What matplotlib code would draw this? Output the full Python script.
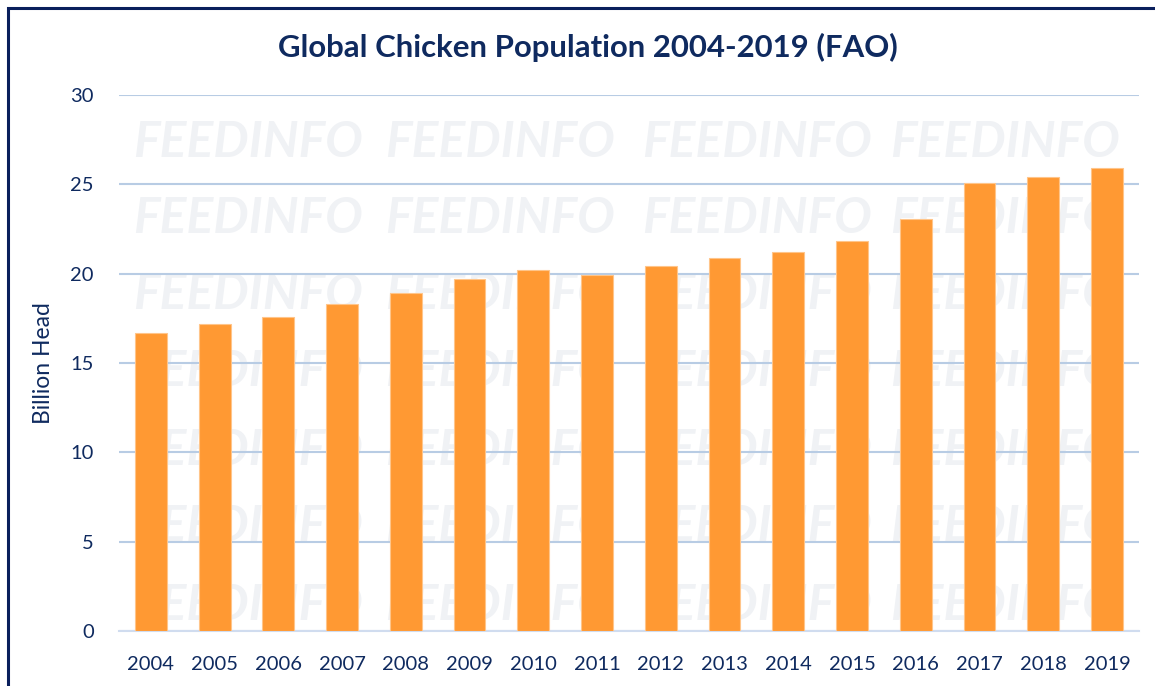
import matplotlib.pyplot as plt
import numpy as np
from matplotlib.patches import Rectangle

years = ["2004", "2005", "2006", "2007", "2008", "2009", "2010", "2011",
         "2012", "2013", "2014", "2015", "2016", "2017", "2018", "2019"]
chickens = [16.7, 17.2, 17.6, 18.3, 18.9, 19.7, 20.2, 19.95,
            20.45, 20.9, 21.2, 21.85, 23.05, 25.1, 25.4, 25.9]

navy = "#0f2a5f"
orange = "#ff9933"

plt.rcParams["font.family"] = ["Lato", "DejaVu Sans"]

fig = plt.figure(figsize=(11.55, 6.86), dpi=100)
ax = fig.add_axes([0.103, 0.0802, 0.883, 0.7813])

# faint watermark, behind the grid and bars
for ty in [0.792, 0.682, 0.570, 0.458, 0.344, 0.232, 0.118]:
    for tx in [0.215, 0.433, 0.655, 0.87]:
        ax.text(tx, ty, "FEEDINFO", fontsize=36, fontweight="bold", style="italic",
                color="#f0f2f5", ha="center", va="center", zorder=0.2,
                transform=fig.transFigure, clip_on=False)

ind = np.arange(len(years))
ax.bar(ind, chickens, 0.5, color=orange, edgecolor="#ffc58a", linewidth=0.8, zorder=3)

ax.set_xlim(-0.5, len(years) - 0.5)
ax.set_ylim(0, 30)
ax.set_yticks(range(0, 31, 5))
ax.set_xticks(ind, years)

ax.set_facecolor("none")
for s in ["top", "right", "left"]:
    ax.spines[s].set_visible(False)
ax.spines["bottom"].set_color("#d0dcef")
ax.spines["bottom"].set_linewidth(1.5)
ax.spines["bottom"].set_zorder(2)
ax.yaxis.grid(True, color="#b8cce4", linewidth=1.5)
ax.set_axisbelow(True)
ax.tick_params(length=0, labelsize=14.5, colors=navy)
ax.tick_params(axis="y", pad=18)
ax.tick_params(axis="x", pad=18)

ax.set_ylabel("Billion Head", fontsize=16.5, color=navy, labelpad=12)
fig.text(0.509, 0.931, "Global Chicken Population 2004-2019 (FAO)", fontsize=22.4,
         fontweight="bold", color=navy, ha="center", va="center")

# outer frame
fig.patches.append(Rectangle((8 / 1155, -0.1), 1.2, (686 - 8) / 686 + 0.1,
                             transform=fig.transFigure, fill=False,
                             edgecolor="#0a1f5c", linewidth=2.2, zorder=10))

plt.savefig("out.png", dpi=100)
